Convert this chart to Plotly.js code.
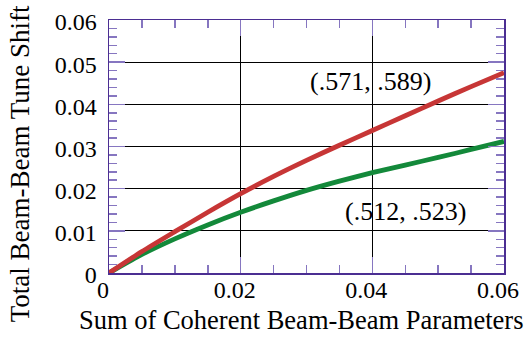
<!DOCTYPE html>
<html>
<head>
<meta charset="utf-8">
<script src="https://cdn.plot.ly/plotly-3.0.1.min.js"></script>
<style>html,body{margin:0;padding:0;background:#fff;}#chart{width:526px;height:341px;}</style>
</head>
<body>
<div id="chart"></div>
<script>
// Sum of coherent beam-beam parameters
const xValues = [0, 0.005, 0.01, 0.015, 0.02, 0.025, 0.03, 0.035, 0.04, 0.045, 0.05, 0.055, 0.06];
// Total beam-beam tune shift, working point (.571, .589)
const redSeries = [0, 0.0051, 0.0098, 0.0144, 0.0188, 0.0229, 0.0267, 0.0303, 0.0338, 0.0373, 0.0408, 0.0442, 0.0475];
// Total beam-beam tune shift, working point (.512, .523)
const greenSeries = [0, 0.0044, 0.0081, 0.0114, 0.0144, 0.0171, 0.0196, 0.0218, 0.0238, 0.0256, 0.0274, 0.0293, 0.0312];

const xTickVals = [0, 0.02, 0.04, 0.06];
const xTickText = ['0', '0.02', '0.04', '0.06'];
const yTickVals = [0, 0.01, 0.02, 0.03, 0.04, 0.05, 0.06];
const yTickText = ['0', '0.01', '0.02', '0.03', '0.04', '0.05', '0.06'];

const labelRed = '(.571, .589)';
const labelGreen = '(.512, .523)';
const xTitle = 'Sum of Coherent Beam-Beam Parameters';
const yTitle = 'Total Beam-Beam Tune Shift';

const serif = 'Liberation Serif';
const frame = '#4b2e92';
const tickPurple = '#8676c0';

const traces = [
  {x: xValues, y: greenSeries, mode: 'lines', line: {color: '#13893a', width: 4.8, shape: 'spline', smoothing: 0.6}, hoverinfo: 'skip'},
  {x: xValues, y: redSeries, mode: 'lines', line: {color: '#c73636', width: 4.8, shape: 'spline', smoothing: 0.6}, hoverinfo: 'skip'}
];

const axisCommon = {
  showline: true, linecolor: frame, linewidth: 1.5, mirror: 'ticks',
  ticks: 'inside', ticklen: 16, tickwidth: 1.5, tickcolor: tickPurple,
  showgrid: true, gridcolor: '#000', gridwidth: 1, zeroline: false,
  tickfont: {family: serif, size: 24, color: '#000'},
  fixedrange: true
};

const layout = {
  width: 526, height: 341,
  margin: {l: 109, r: 22, t: 20, b: 68},
  paper_bgcolor: '#fff', plot_bgcolor: '#fff',
  showlegend: false,
  xaxis: Object.assign({}, axisCommon, {
    range: [0, 0.06], tickvals: xTickVals, ticktext: xTickText,
    minor: {dtick: 0.005, ticks: 'inside', ticklen: 8, tickwidth: 1.5, tickcolor: tickPurple, showgrid: false},
    ticklabelstandoff: -5, ticklabelshift: -6
  }),
  yaxis: Object.assign({}, axisCommon, {
    range: [0, 0.06], tickvals: yTickVals, ticktext: yTickText,
    minor: {dtick: 0.002, ticks: 'inside', ticklen: 8, tickwidth: 1.5, tickcolor: tickPurple, showgrid: false},
    ticklabelstandoff: 6, ticklabelshift: 2
  }),
  annotations: [
    {x: 0.0397, y: 0.0453, xref: 'x', yref: 'y', text: labelRed, showarrow: false,
     font: {family: serif, size: 26, color: '#000'}, xanchor: 'center', yanchor: 'middle'},
    {x: 0.0451, y: 0.0146, xref: 'x', yref: 'y', text: labelGreen, showarrow: false,
     font: {family: serif, size: 26, color: '#000'}, xanchor: 'center', yanchor: 'middle'},
    {x: 0.486, y: -0.186, xref: 'paper', yref: 'paper', text: xTitle, showarrow: false,
     font: {family: serif, size: 26.5, color: '#000'}, xanchor: 'center', yanchor: 'middle'},
    {x: -0.225, y: 0.43, xref: 'paper', yref: 'paper', text: yTitle, showarrow: false, textangle: -90,
     font: {family: serif, size: 27, color: '#000'}, xanchor: 'center', yanchor: 'middle'}
  ]
};

Plotly.newPlot('chart', traces, layout, {staticPlot: true, displayModeBar: false});
</script>
</body>
</html>
